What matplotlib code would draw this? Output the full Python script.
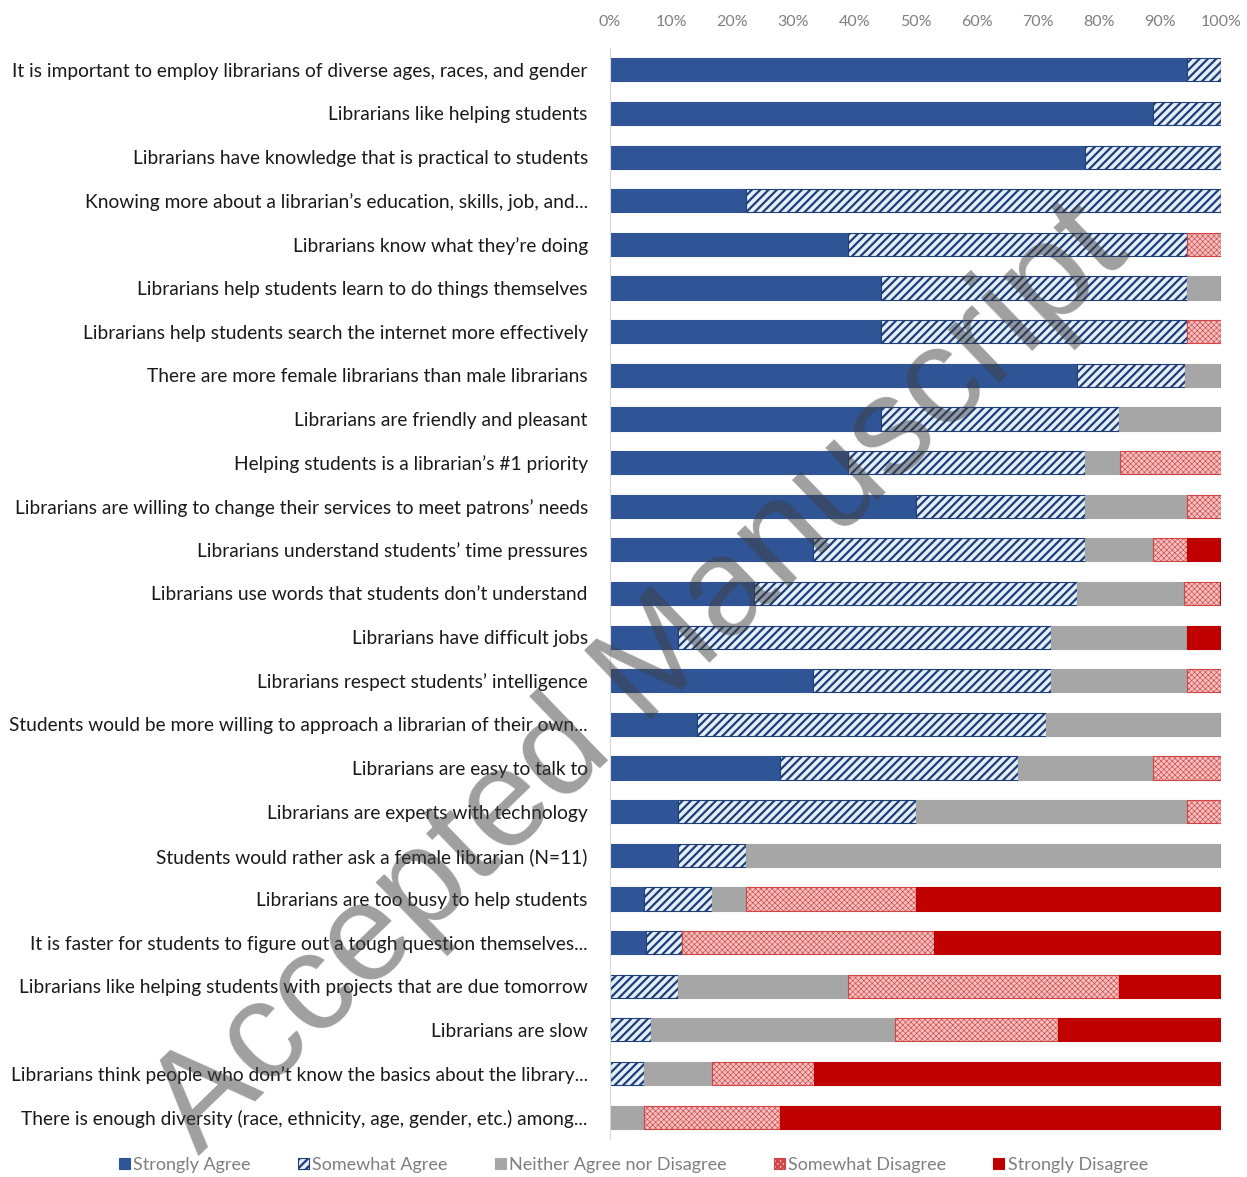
import numpy as np
import matplotlib.pyplot as plt
import matplotlib as mpl

statements = [
    "It is important to employ librarians of diverse ages, races, and gender",
    "Librarians like helping students",
    "Librarians have knowledge that is practical to students",
    "Knowing more about a librarian\u2019s education, skills, job, and...",
    "Librarians know what they\u2019re doing",
    "Librarians help students learn to do things themselves",
    "Librarians help students search the internet more effectively",
    "There are more female librarians than male librarians",
    "Librarians are friendly and pleasant",
    "Helping students is a librarian\u2019s #1 priority",
    "Librarians are willing to change their services to meet patrons\u2019 needs",
    "Librarians understand students\u2019 time pressures",
    "Librarians use words that students don\u2019t understand",
    "Librarians have difficult jobs",
    "Librarians respect students\u2019 intelligence",
    "Students would be more willing to approach a librarian of their own...",
    "Librarians are easy to talk to",
    "Librarians are experts with technology",
    "Students would rather ask a female librarian (N=11)",
    "Librarians are too busy to help students",
    "It is faster for students to figure out a tough question themselves...",
    "Librarians like helping students with projects that are due tomorrow",
    "Librarians are slow",
    "Librarians think people who don\u2019t know the basics about the library...",
    "There is enough diversity (race, ethnicity, age, gender, etc.) among...",
]

# percent of responses per statement
strongly_agree = [94.4, 88.9, 77.8, 22.2, 38.9, 44.4, 44.4, 76.5, 44.4, 38.9, 50.0, 33.3, 23.5,
                  11.1, 33.3, 14.3, 27.8, 11.1, 11.1, 5.6, 5.9, 0, 0, 0, 0]
somewhat_agree = [5.6, 11.1, 22.2, 77.8, 55.6, 50.0, 50.0, 17.6, 38.9, 38.9, 27.8, 44.4, 52.9,
                  61.1, 38.9, 57.1, 38.9, 38.9, 11.1, 11.1, 5.9, 11.1, 6.7, 5.6, 0]
neither = [0, 0, 0, 0, 0, 5.6, 0, 5.9, 16.7, 5.6, 16.7, 11.1, 17.6,
           22.2, 22.2, 28.6, 22.2, 44.4, 77.8, 5.6, 0, 27.8, 40.0, 11.1, 5.6]
somewhat_disagree = [0, 0, 0, 0, 5.6, 0, 5.6, 0, 0, 16.7, 5.6, 5.6, 5.9,
                     0, 5.6, 0, 11.1, 5.6, 0, 27.8, 41.2, 44.4, 26.7, 16.7, 22.2]
strongly_disagree = [0, 0, 0, 0, 0, 0, 0, 0, 0, 0, 0, 5.6, 0,
                     5.6, 0, 0, 0, 0, 0, 50.0, 47.1, 16.7, 26.7, 66.7, 72.2]

series = ["Strongly Agree", "Somewhat Agree", "Neither Agree nor Disagree",
          "Somewhat Disagree", "Strongly Disagree"]
values = [strongly_agree, somewhat_agree, neither, somewhat_disagree, strongly_disagree]

styles = [
    dict(color="#2F5597", edgecolor="#2F5597", hatch=None, hlw=1.6),
    dict(color="#E3EEF8", edgecolor="#1F3E78", hatch="////", hlw=1.6),
    dict(color="#A6A6A6", edgecolor="#A6A6A6", hatch=None, hlw=1.6),
    dict(color="#F5C0C0", edgecolor="#D04545", hatch="xxxxxx", hlw=0.45),
    dict(color="#C00000", edgecolor="#C00000", hatch=None, hlw=1.6),
]

plt.rcParams['font.family'] = ['Lato', 'DejaVu Sans']

fig = plt.figure(figsize=(12.47, 11.77), dpi=100)
ax = fig.add_axes([610 / 1247, 1 - 1139 / 1177, 611 / 1247, 1091 / 1177])

y = np.arange(len(statements))
left = np.zeros(len(statements))
for name, vals, st in zip(series, values, styles):
    vals = np.array(vals, dtype=float)
    mpl.rcParams['hatch.linewidth'] = st["hlw"]
    ax.barh(y, vals, left=left, height=0.53, color=st["color"], edgecolor=st["edgecolor"],
            hatch=st["hatch"], linewidth=0.8, label=name)
    left += vals

ax.set_xlim(0, 100)
ax.set_ylim(len(statements) - 0.5, -0.5)
ax.set_yticks(y, labels=statements, fontsize=13.8, color="#1A1A1A")
ax.set_xticks(np.arange(0, 101, 10), labels=[f"{v}%" for v in range(0, 101, 10)],
              fontsize=11.5, color="#7F7F7F")
ax.xaxis.tick_top()
ax.tick_params(axis="x", length=0, pad=14)
ax.tick_params(axis="y", length=0, pad=16)
for s in ["top", "right", "bottom"]:
    ax.spines[s].set_visible(False)
ax.spines["left"].set_color("#D9D9D9")

leg = fig.legend(loc="center", bbox_to_anchor=(0.508, 1 - 1165 / 1177), ncol=5, frameon=False,
                 fontsize=13, handlelength=0.6, handleheight=0.6, handletextpad=0.2,
                 columnspacing=2.6)
for t in leg.get_texts():
    t.set_color("#7F7F7F")

# publisher watermark
fig.text(640 / 1247, 1 - 680 / 1177, "Accepted Manuscript", rotation=44, fontsize=100,
         color="#404040", alpha=0.5, ha="center", va="center", family="Liberation Sans")

plt.savefig("out.png", dpi=100)
